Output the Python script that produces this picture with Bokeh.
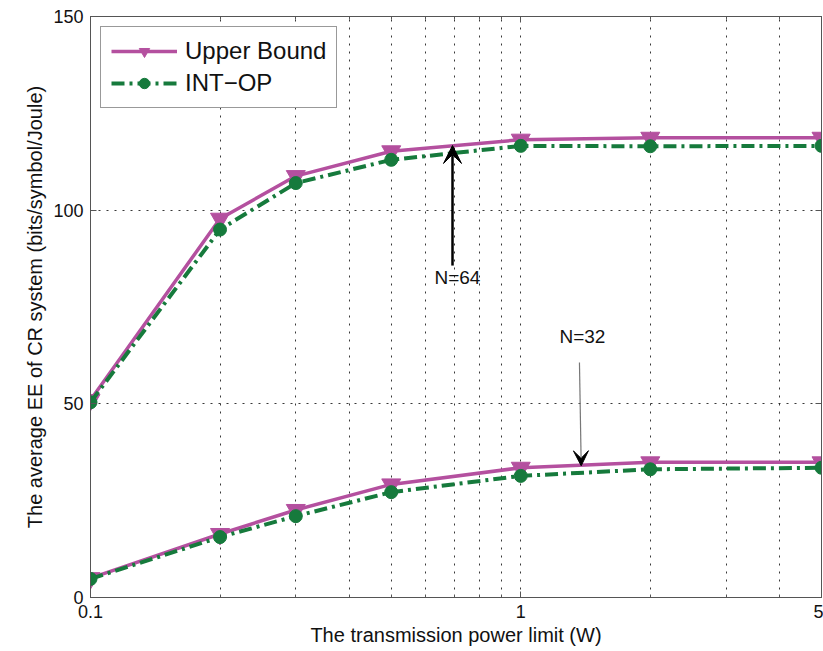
from bokeh.plotting import figure
from bokeh.models import (Range1d, FixedTicker, NumeralTickFormatter, LinearAxis, LogAxis,
                          Legend, LegendItem, Arrow, VeeHead, Label)
from bokeh.embed import file_html
from bokeh.resources import INLINE

# ---- data ----
power = [0.1, 0.2, 0.3, 0.5, 1, 2, 5]
ub_n64 = [51.0, 97.8, 108.8, 115.2, 118.2, 118.7, 118.7]
op_n64 = [50.4, 95.0, 107.0, 113.0, 116.6, 116.5, 116.6]
ub_n32 = [5.0, 16.4, 22.6, 29.2, 33.5, 34.9, 34.9]
op_n32 = [4.8, 15.6, 21.0, 27.2, 31.4, 33.1, 33.5]

x_ticks = [0.1, 1, 5]
x_minor = [0.2, 0.3, 0.4, 0.5, 0.6, 0.7, 0.8, 0.9, 2, 3, 4]
y_ticks = [0, 50, 100, 150]

# annotation anchors (data coordinates)
n64_text = ("N=64", 0.7126, 82.6)
n64_arrow = (0.694, 85.7, 0.694, 116.7)
n32_text = ("N=32", 1.391, 67.3)
n32_arrow = (1.369, 60.7, 1.382, 34.0)

FONT = "Liberation Sans"
MAGENTA = "#b4509f"
GREEN = "#167a3c"
AXIS_C = "#555555"

p = figure(x_axis_type="log", x_range=Range1d(0.1, 5), y_range=Range1d(0, 150),
           frame_width=731, frame_height=581,
           min_border_left=90, min_border_right=2, min_border_top=16, min_border_bottom=54,
           output_backend="svg", toolbar_location=None,
           x_axis_label="The transmission power limit (W)",
           y_axis_label="The average EE of CR system (bits/symbol/Joule)")

p.outline_line_color = AXIS_C
p.background_fill_color = "white"

# grids
p.xgrid.ticker = FixedTicker(ticks=x_minor + [1])
p.ygrid.ticker = FixedTicker(ticks=[50, 100])
for g in (p.xgrid, p.ygrid):
    g.grid_line_color = "#222222"
    g.grid_line_dash = "2 6"
    g.grid_line_width = 1
    g.grid_line_alpha = 0.9

# axes
p.xaxis.ticker = FixedTicker(ticks=x_ticks, minor_ticks=x_minor)
p.xaxis.formatter = NumeralTickFormatter(format="0.[0]")
p.yaxis.ticker = FixedTicker(ticks=y_ticks)
for ax in (p.xaxis, p.yaxis):
    ax.axis_line_color = AXIS_C
    ax.major_tick_line_color = AXIS_C
    ax.minor_tick_line_color = AXIS_C
    ax.major_tick_in = 6
    ax.major_tick_out = 0
    ax.minor_tick_in = 3
    ax.minor_tick_out = 0
    ax.major_label_text_font = FONT
    ax.major_label_text_font_size = "18px"
    ax.major_label_text_color = "#111111"
    ax.axis_label_text_font = FONT
    ax.axis_label_text_font_size = "20px"
    ax.axis_label_text_font_style = "normal"
    ax.axis_label_text_color = "#111111"
p.yaxis.minor_tick_line_color = None
p.xaxis.major_label_standoff = 7
p.yaxis.major_label_standoff = 7
p.xaxis.axis_label_standoff = 3
p.yaxis.axis_label_standoff = 4

top_ax = LogAxis(ticker=FixedTicker(ticks=x_ticks, minor_ticks=x_minor),
                 major_label_text_font_size="1px", major_label_text_color=None,
                 major_label_standoff=0,
                 axis_line_color=AXIS_C, major_tick_line_color=AXIS_C, minor_tick_line_color=AXIS_C,
                 major_tick_in=6, major_tick_out=0, minor_tick_in=3, minor_tick_out=0)
right_ax = LinearAxis(ticker=FixedTicker(ticks=y_ticks),
                      major_label_text_font_size="1px", major_label_text_color=None,
                      major_label_standoff=0,
                      axis_line_color=AXIS_C, major_tick_line_color=AXIS_C, minor_tick_line_color=None,
                      major_tick_in=6, major_tick_out=0)
p.add_layout(top_ax, "above")
p.add_layout(right_ax, "right")

# series
ub_rs, op_rs = [], []
for ub in (ub_n64, ub_n32):
    l = p.line(power, ub, line_color=MAGENTA, line_width=3.5)
    s = p.scatter(power, ub, marker="inverted_triangle", size=19, fill_color=MAGENTA,
                  line_color=MAGENTA, line_width=1)
    ub_rs.append((l, s))
for op in (op_n64, op_n32):
    l = p.line(power, op, line_color=GREEN, line_width=4, line_dash="13 5 3 5")
    s = p.scatter(power, op, marker="circle", size=13, fill_color=GREEN,
                  line_color=GREEN, line_width=1)
    op_rs.append((l, s))

legend = Legend(items=[LegendItem(label="Upper Bound", renderers=list(ub_rs[0])),
                       LegendItem(label="INT\u2212OP", renderers=list(op_rs[0]))],
                location="top_left", margin=10, padding=10, spacing=4,
                glyph_width=66, glyph_height=26, label_standoff=8,
                label_text_font=FONT, label_text_font_size="24px", label_text_color="#111111",
                border_line_color="#333333", border_line_width=1, background_fill_alpha=1)
p.add_layout(legend)

# annotations
x0, y0, x1, y1 = n64_arrow
p.add_layout(Arrow(x_start=x0, y_start=y0, x_end=x1, y_end=y1, line_color="black", line_width=2.5,
                   end=VeeHead(size=18, fill_color="black", line_color="black")))
x0, y0, x1, y1 = n32_arrow
p.add_layout(Arrow(x_start=x0, y_start=y0, x_end=x1, y_end=y1, line_color="#777777", line_width=1.2,
                   end=VeeHead(size=15, fill_color="black", line_color="black")))
for t, x, y in (n64_text, n32_text):
    p.add_layout(Label(x=x, y=y, text=t, text_align="center", text_baseline="middle",
                       text_font=FONT, text_font_size="19px", text_color="#111111"))

open("out.html", "w").write(file_html(p, INLINE))
